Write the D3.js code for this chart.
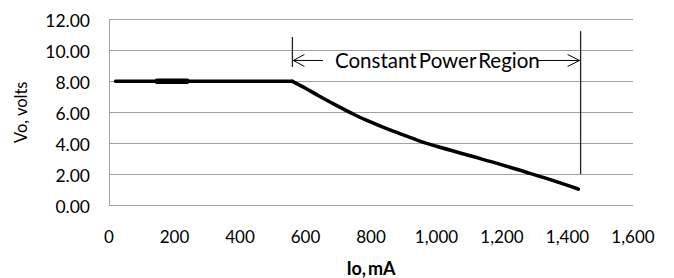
<!DOCTYPE html>
<html>
<head>
<meta charset="utf-8">
<script src="https://cdn.jsdelivr.net/npm/d3@7"></script>
<style>
  html, body { margin: 0; padding: 0; background: #fff; }
  svg { display: block; }
  text { font-family: Lato, "Open Sans", sans-serif; fill: #000; }
</style>
</head>
<body>
<svg id="chart" width="674" height="278"></svg>
<script>
// ---- data ----
const ioMA = [20, 100, 200, 300, 400, 500, 560, 600, 640, 700, 750, 800, 850, 900, 965, 1000, 1100, 1200, 1285, 1350, 1433];
const voVolts = [8, 8, 8, 8, 8, 8, 8, 7.55, 7.07, 6.38, 5.84, 5.36, 4.92, 4.52, 4.02, 3.8, 3.2, 2.6, 2.05, 1.62, 1.03];
const heavyIo = [147, 238];
const heavyVo = [8, 8];
const yTicks = [0, 2, 4, 6, 8, 10, 12];
const xTicks = [0, 200, 400, 600, 800, 1000, 1200, 1400, 1600];
const regionIo = [560, 1440];
const regionArrowV = 9.35;
const regionLeftBarV = [8.93, 10.87];
const regionRightBarV = [2.0, 11.25];
const regionLabel = "Constant Power Region";
const xTitle = "Io, mA";
const yTitle = "Vo, volts";

// ---- layout ----
const svg = d3.select("#chart");
const x = d3.scaleLinear().domain([0, 1600]).range([109, 633]);
const y = d3.scaleLinear().domain([0, 12]).range([205, 19.5]);
const fmtY = d3.format(".2f");
const fmtX = d3.format(",");

// gridlines
svg.append("g").selectAll("line").data(yTicks.filter(d => d > 0)).join("line")
  .attr("x1", x(0)).attr("x2", x(1600))
  .attr("y1", d => y(d)).attr("y2", d => y(d))
  .attr("stroke", "#a0a0a0").attr("stroke-width", 1).attr("shape-rendering", "crispEdges");

// axes lines
svg.append("line").attr("x1", x(0)).attr("x2", x(0)).attr("y1", y(0)).attr("y2", y(12))
  .attr("stroke", "#a0a0a0").attr("shape-rendering", "crispEdges");
svg.append("line").attr("x1", x(0)).attr("x2", x(1600)).attr("y1", y(0)).attr("y2", y(0))
  .attr("stroke", "#a0a0a0").attr("shape-rendering", "crispEdges");

// y tick labels
svg.append("g").selectAll("text").data(yTicks).join("text")
  .attr("x", 90).attr("y", d => y(d) + 1)
  .attr("text-anchor", "end").attr("dominant-baseline", "central")
  .attr("font-size", 17.5).text(d => fmtY(d));

// x tick labels
svg.append("g").selectAll("text").data(xTicks).join("text")
  .attr("x", d => x(d)).attr("y", 236)
  .attr("text-anchor", "middle").attr("dominant-baseline", "central")
  .attr("font-size", 17).text(d => fmtX(d));

// axis titles
svg.append("text").attr("x", x(800)).attr("y", 275)
  .attr("text-anchor", "middle").attr("font-size", 18).attr("font-weight", "bold")
  .attr("word-spacing", -2.5).text(xTitle);
svg.append("text")
  .attr("transform", `translate(27,${(y(0) + y(12)) / 2}) rotate(-90)`)
  .attr("text-anchor", "middle").attr("font-size", 16.5).text(yTitle);

// data line: flat part straight, constant-power part smoothed
const pts = d3.zip(ioMA, voVolts);
const kneeIdx = voVolts.lastIndexOf(d3.max(voVolts));
const lineLin = d3.line().x(d => x(d[0])).y(d => y(d[1]));
const lineSmooth = d3.line().x(d => x(d[0])).y(d => y(d[1])).curve(d3.curveMonotoneX);
const lineStyle = p => p.attr("fill", "none").attr("stroke", "#000")
  .attr("stroke-width", 3.5).attr("stroke-linejoin", "round").attr("stroke-linecap", "round");
svg.append("path").datum(pts.slice(0, kneeIdx + 1)).attr("d", lineLin).call(lineStyle);
svg.append("path").datum(pts.slice(kneeIdx)).attr("d", lineSmooth).call(lineStyle);
svg.append("path").datum(d3.zip(heavyIo, heavyVo))
  .attr("d", lineLin).attr("fill", "none").attr("stroke", "#000")
  .attr("stroke-width", 5.5).attr("stroke-linecap", "round");

// annotation
const ax0 = x(regionIo[0]), ax1 = x(regionIo[1]), ay = y(regionArrowV);
svg.append("line").attr("x1", ax0).attr("x2", ax0)
  .attr("y1", y(regionLeftBarV[0])).attr("y2", y(regionLeftBarV[1]))
  .attr("stroke", "#222").attr("stroke-width", 1.3);
svg.append("line").attr("x1", ax1).attr("x2", ax1)
  .attr("y1", y(regionRightBarV[0])).attr("y2", y(regionRightBarV[1]))
  .attr("stroke", "#222").attr("stroke-width", 1.3);
const label = svg.append("text").attr("x", 335).attr("y", ay).attr("dominant-baseline", "central")
  .attr("font-size", 20.5).attr("word-spacing", -3).text(regionLabel);
const bb = label.node().getBBox();
const tStart = bb.x, tEnd = bb.x + bb.width;
const arrow = svg.append("g").attr("stroke", "#000").attr("stroke-width", 1).attr("fill", "none");
arrow.append("path").attr("d", `M${ax0 + 1},${ay} L${tStart - 12},${ay} M${ax0 + 12},${ay - 6} L${ax0 + 1},${ay} L${ax0 + 12},${ay + 6}`);
arrow.append("path").attr("d", `M${tEnd - 3},${ay} L${ax1 - 1},${ay} M${ax1 - 13},${ay - 6} L${ax1 - 1},${ay} L${ax1 - 13},${ay + 6}`);
</script>
</body>
</html>
